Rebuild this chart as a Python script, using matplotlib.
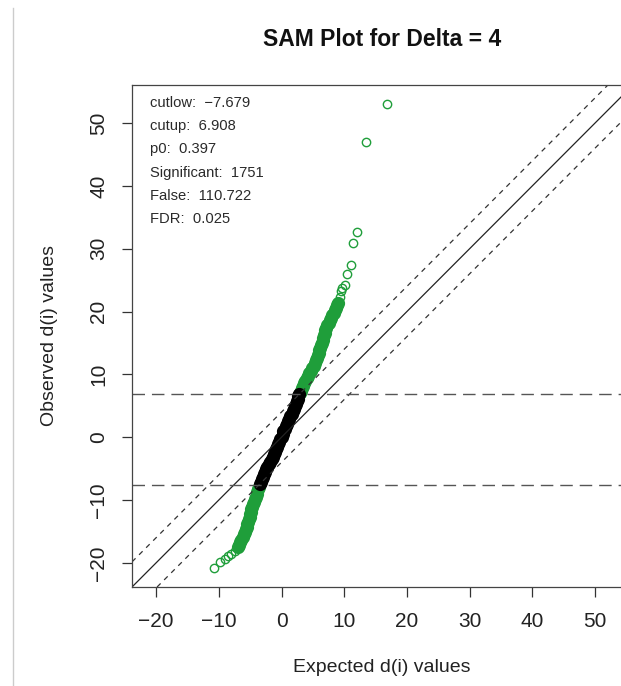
import numpy as np
import matplotlib
matplotlib.use("Agg")
import matplotlib.pyplot as plt
from matplotlib.lines import Line2D

plt.rcParams['font.family'] = ['Liberation Sans', 'DejaVu Sans']

delta = 4
cutlow = -7.679
cutup = 6.908

# expected vs observed d(i) (sorted along the curve)
expected_d = [
    -10.8, -9.9, -9.1, -8.6, -8.05, -7.5,
    -7.0, -6.8, -6.6, -6.4, -6.2, -5.95, -5.8, -5.65, -5.55, -5.45,
    -5.35, -5.2, -5.1, -5.0, -4.9, -4.8, -4.65, -4.5, -4.4, -4.25,
    -4.1, -3.95, -3.85, -3.7, -3.55,
    -3.45, -3.35, -3.2, -3.0, -2.85, -2.7, -2.5, -2.3, -2.0, -1.8,
    -1.6, -1.4, -1.2, -1.0, -0.85, -0.7, -0.55, -0.4, -0.2, 0.0,
    0.15, 0.3, 0.5, 0.65, 0.85, 1.0, 1.2, 1.4, 1.6, 1.75,
    1.95, 2.1, 2.25, 2.4, 2.55, 2.7, 2.8,
    2.9, 3.05, 3.25, 3.4, 3.6, 3.8, 4.0, 4.2, 4.45, 4.7,
    4.9, 5.1, 5.3, 5.45, 5.6, 5.75, 5.9, 6.05, 6.2, 6.3,
    6.4, 6.55, 6.65, 6.75, 6.86, 7.0, 7.15, 7.3, 7.5, 7.7,
    7.9, 8.1, 8.3, 8.5, 8.7, 8.85, 9.0,
    9.25, 9.5, 9.7, 10.05, 10.5, 11.0, 11.4, 12.0, 13.4, 16.8,
]
observed_d = [
    -20.9, -19.9, -19.4, -19.0, -18.6, -18.1,
    -17.5, -17.1, -16.7, -16.3, -15.9, -15.5, -15.1, -14.7, -14.3, -13.9,
    -13.5, -13.1, -12.7, -12.3, -11.9, -11.5, -11.1, -10.7, -10.3, -9.9,
    -9.5, -9.1, -8.7, -8.3, -7.9,
    -7.5, -7.1, -6.7, -6.3, -5.9, -5.5, -5.1, -4.7, -4.3, -3.9,
    -3.5, -3.1, -2.7, -2.3, -1.9, -1.5, -1.1, -0.7, -0.3, 0.1,
    0.5, 0.9, 1.3, 1.7, 2.1, 2.5, 2.9, 3.3, 3.7, 4.1,
    4.5, 4.9, 5.3, 5.7, 6.1, 6.5, 6.8,
    7.0, 7.4, 7.8, 8.2, 8.6, 9.0, 9.4, 9.8, 10.2, 10.6,
    11.0, 11.4, 11.8, 12.2, 12.6, 13.0, 13.4, 13.8, 14.2, 14.6,
    15.0, 15.4, 15.8, 16.2, 16.6, 17.0, 17.4, 17.8, 18.2, 18.6,
    19.0, 19.4, 19.8, 20.2, 20.6, 21.0, 21.4,
    22.3, 23.2, 23.7, 24.2, 25.9, 27.4, 30.9, 32.6, 47.0, 53.1,
]

stat_names = ["cutlow", "cutup", "p0", "Significant", "False", "FDR"]
stat_values = ["\u22127.679", "6.908", "0.397", "1751", "110.722", "0.025"]

ticks = [-20, -10, 0, 10, 20, 30, 40, 50]

ex = np.array(expected_d)
ob = np.array(observed_d)
sig = (ob >= cutup) | (ob <= cutlow)
# the dense central band vs. the isolated points at the ends
dense = (ob > -18.0) & (ob < 22.0)

fig = plt.figure(figsize=(6.21, 6.86), dpi=100)
ax = fig.add_axes([132 / 621, 99 / 686, 501 / 621, 502 / 686])

lo = min(ex.min(), ob.min())
hi = max(ex.max(), ob.max())
pad = 0.04 * (hi - lo)
ax.set_xlim(lo - pad, hi + pad)
ax.set_ylim(lo - pad, hi + pad)

green = '#1f9e3a'
# sparse points: thin open circles
m = ~dense & ~sig
ax.plot(ex[m], ob[m], 'o', mfc='none', mec='black', ms=6, mew=1.0)
m = ~dense & sig
ax.plot(ex[m], ob[m], 'o', mfc='none', mec=green, ms=6, mew=1.0)
# dense band: overlapping circles merge into a solid stroke
m = dense & sig
ax.plot(ex[m], ob[m], 'o', mfc='none', mec=green, ms=6.2, mew=3.3)
m = dense & ~sig
ax.plot(ex[m], ob[m], 'o', mfc='none', mec='black', ms=6.2, mew=3.3)

ax.axline((0, 0), slope=1, color='#222222', lw=0.9)
ax.axline((0, delta), slope=1, color='#333333', lw=0.9, ls=(0, (4, 4)))
ax.axline((0, -delta), slope=1, color='#333333', lw=0.9, ls=(0, (4, 4)))
ax.axhline(cutup, color='#555555', lw=1.0, ls=(0, (9, 5)))
ax.axhline(cutlow, color='#555555', lw=1.0, ls=(0, (9, 5)))

for i, (n, v) in enumerate(zip(stat_names, stat_values)):
    ax.text(18 / 501, 1 - (18 + 23.2 * i) / 502, n + ":  " + v,
            transform=ax.transAxes, fontsize=10.6, va='center', ha='left',
            color='#2a2a2a')

ax.set_xticks(ticks)
ax.set_yticks(ticks)
ax.tick_params(axis='both', direction='out', length=7, width=0.9,
               labelsize=15, color='#333333', labelcolor='#222222')
ax.tick_params(axis='x', pad=11)
ax.tick_params(axis='y', pad=10)
for lab in ax.get_yticklabels():
    lab.set_rotation(90)
    lab.set_va('center')
for s in ax.spines.values():
    s.set_color('#444444')
    s.set_linewidth(0.9)

fig.text(382 / 621, 1 - 40 / 686, "SAM Plot for Delta = 4", ha='center',
         va='center', fontsize=16.5, fontweight='bold', color='#111111')
fig.text(382 / 621, 1 - 668 / 686, "Expected d(i) values", ha='center',
         va='center', fontsize=14, color='#222222')
fig.text(50 / 621, 1 - 336 / 686, "Observed d(i) values", ha='center',
         va='center', fontsize=14, rotation=90, color='#222222')

fig.add_artist(Line2D([13 / 621, 13 / 621], [0, 1 - 8 / 686],
                      color='#cccccc', lw=1.0, transform=fig.transFigure))

fig.savefig("out.png", dpi=100)
